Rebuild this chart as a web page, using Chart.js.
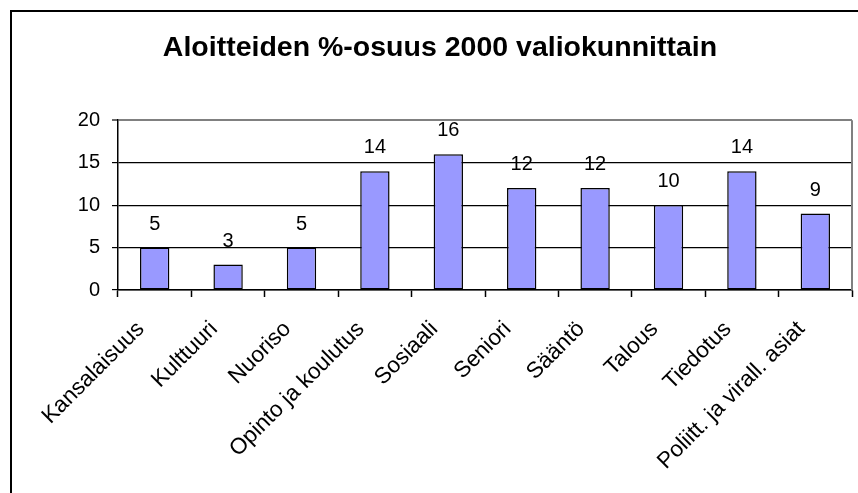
<!DOCTYPE html>
<html>
<head>
  <meta charset="UTF-8">
  <title>Aloitteiden %-osuus 2000 valiokunnittain</title>
  <script src="https://cdn.jsdelivr.net/npm/chart.js"></script>
  <style>
    html, body { margin: 0; padding: 0; background: #fff; overflow: hidden; }
    .frame {
      position: absolute; left: 10px; top: 10px;
      width: 900px; height: 560px;
      border: 2px solid #000;
    }
    .chart-box { position: absolute; left: 0; top: 0; width: 858px; height: 493px; }
  </style>
</head>
<body>
  <div class="frame"></div>
  <div class="chart-box"><canvas id="chart"></canvas></div>

  <script>
    const categories = [
      "Kansalaisuus", "Kulttuuri", "Nuoriso", "Opinto ja koulutus", "Sosiaali",
      "Seniori", "Sääntö", "Talous", "Tiedotus", "Poliitt. ja virall. asiat"
    ];
    const shares = [5, 3, 5, 14, 16, 12, 12, 10, 14, 9];
    const yTicks = [0, 5, 10, 15, 20];

    const FONT = "'Liberation Sans', Arial, sans-serif";

    // value labels above each bar
    const valueLabels = {
      id: "valueLabels",
      afterDatasetsDraw(chart) {
        const ctx = chart.ctx;
        const meta = chart.getDatasetMeta(0);
        ctx.save();
        ctx.font = "20px " + FONT;
        ctx.fillStyle = "#000";
        ctx.textAlign = "center";
        ctx.textBaseline = "alphabetic";
        meta.data.forEach((bar, i) => {
          ctx.fillText(String(shares[i]), bar.x, bar.y - 18);
        });
        ctx.restore();
      }
    };

    // gray right edge of the plot area
    const plotEdge = {
      id: "plotEdge",
      beforeDatasetsDraw(chart) {
        const { ctx, chartArea } = chart;
        ctx.save();
        ctx.strokeStyle = "#808080";
        ctx.lineWidth = 2;
        ctx.beginPath();
        ctx.moveTo(chartArea.right, chartArea.top);
        ctx.lineTo(chartArea.right, chartArea.bottom);
        ctx.stroke();
        ctx.restore();
      }
    };

    new Chart(document.getElementById("chart").getContext("2d"), {
      type: "bar",
      data: {
        labels: categories,
        datasets: [{
          data: shares,
          backgroundColor: "#9999FF",
          borderColor: "#000",
          borderWidth: 1.5,
          borderSkipped: false,
          barPercentage: 0.4,
          categoryPercentage: 1
        }]
      },
      options: {
        responsive: true,
        maintainAspectRatio: false,
        animation: false,
        devicePixelRatio: 1,
        layout: { padding: { left: 28, right: 6, top: 0, bottom: 0 } },
        plugins: {
          legend: { display: false },
          tooltip: { enabled: false },
          title: {
            display: true,
            text: "Aloitteiden %-osuus 2000 valiokunnittain",
            color: "#000",
            font: { family: FONT, size: 28.5, weight: "bold", lineHeight: 1.2 },
            padding: { top: 31, bottom: 55 }
          }
        },
        scales: {
          x: {
            afterFit(scale) { scale.height = 203; },
            border: { color: "#000", width: 1.5 },
            grid: {
              offset: true,
              drawOnChartArea: false,
              drawTicks: true,
              tickLength: 7,
              tickColor: "#000",
              tickWidth: 1.5
            },
            ticks: {
              autoSkip: false,
              maxRotation: 45,
              minRotation: 45,
              color: "#000",
              padding: 19,
              labelOffset: -14,
              font: { family: FONT, size: 22.5 }
            }
          },
          y: {
            min: 0,
            max: 20,
            afterFit(scale) { scale.width = 90; },
            afterBuildTicks(scale) { scale.ticks = yTicks.map(v => ({ value: v })); },
            border: { color: "#000", width: 1.5 },
            grid: {
              color: ctx => ctx.tick && ctx.tick.value === 20 ? "#808080" : "#000",
              lineWidth: ctx => ctx.tick && ctx.tick.value === 20 ? 2 : 1.2,
              drawTicks: true,
              tickLength: 6,
              tickColor: "#000",
              tickWidth: 1.2
            },
            ticks: {
              color: "#000",
              padding: 12,
              font: { family: FONT, size: 20 }
            }
          }
        }
      },
      plugins: [valueLabels, plotEdge]
    });
  </script>
</body>
</html>
